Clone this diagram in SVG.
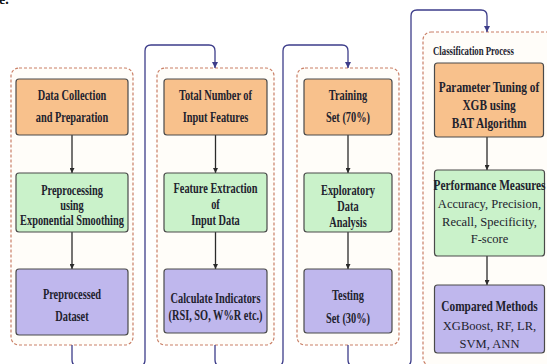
<svg xmlns="http://www.w3.org/2000/svg" width="547" height="364" viewBox="0 0 547 364">
  <defs>
    <marker id="arrowDark" viewBox="0 0 10 10" refX="10" refY="5" markerWidth="5" markerHeight="5" orient="auto" markerUnits="userSpaceOnUse">
      <path d="M0,0 L10,5 L0,10 Z" fill="#2b2b2b"/>
    </marker>
    <marker id="arrowFlow" viewBox="0 0 10 10" refX="10" refY="5" markerWidth="6" markerHeight="6" orient="auto" markerUnits="userSpaceOnUse">
      <path d="M0,0 L10,5 L0,10 Z" fill="#3d3d8a"/>
    </marker>
    <style>
      .stage { fill: #fffdf9; stroke: #c97f66; stroke-width: 1.2; stroke-dasharray: 3 2; }
      .box { stroke: #4a4a4a; stroke-width: 1.2; }
      .orange { fill: #f8c18c; }
      .green { fill: #caf2ca; }
      .purple { fill: #bfb7ed; }
      .step { stroke: #2b2b2b; stroke-width: 1.3; fill: none; marker-end: url(#arrowDark); }
      .flow { stroke: #3d3d8a; stroke-width: 1.3; fill: none; }
      .b { font-family: "Liberation Serif", "Times New Roman", serif; font-weight: bold; font-size: 14px; fill: #22222e; text-anchor: middle; }
      .n { font-family: "Liberation Serif", "Times New Roman", serif; font-weight: normal; font-size: 13.5px; fill: #22222e; text-anchor: middle; }
      .t { font-family: "Liberation Serif", "Times New Roman", serif; font-weight: bold; font-size: 12px; fill: #22222e; }
    </style>
  </defs>

  <rect width="547" height="364" fill="#ffffff"/>

  <text x="-1" y="3.5" font-family="Liberation Serif, serif" font-weight="bold" font-size="14" fill="#111">e.</text>

  <!-- stage containers -->
  <g id="stage1"><rect class="stage" x="11" y="68" width="122" height="277" rx="8"/></g>
  <g id="stage2"><rect class="stage" x="157" y="68" width="117" height="277" rx="8"/></g>
  <g id="stage3"><rect class="stage" x="297" y="68" width="102" height="277" rx="8"/></g>
  <g id="stage4">
    <rect class="stage" x="423" y="32" width="134" height="334" rx="8"/>
    <text class="t" transform="translate(433,54.5) scale(0.73,1)">Classification Process</text>
  </g>

  <!-- connectors -->
  <g id="connectors">
    <path class="flow" marker-end="url(#arrowFlow)" d="M72,345 V360 Q72,366 78,366 H139 Q145,366 145,360 V51 Q145,45 151,45 H209 Q215,45 215,51 V68"/>
    <path class="flow" marker-end="url(#arrowFlow)" d="M215,345 V360 Q215,366 221,366 H277 Q283,366 283,360 V51 Q283,45 289,45 H342 Q348,45 348,51 V68"/>
    <path class="flow" marker-end="url(#arrowFlow)" d="M348,345 V360 Q348,366 354,366 H405 Q411,366 411,360 V16 Q411,10 417,10 H481 Q487,10 487,16 V32"/>
    <line class="step" x1="72" y1="135" x2="72" y2="173"/>
    <line class="step" x1="72" y1="232" x2="72" y2="269"/>
    <line class="step" x1="215.5" y1="135" x2="215.5" y2="173"/>
    <line class="step" x1="215.5" y1="232" x2="215.5" y2="269"/>
    <line class="step" x1="348" y1="135" x2="348" y2="173"/>
    <line class="step" x1="348" y1="232" x2="348" y2="269"/>
    <line class="step" x1="487" y1="137" x2="487" y2="170"/>
    <line class="step" x1="487" y1="256" x2="487" y2="285"/>
  </g>

  <!-- column 1 -->
  <g id="data-collection">
    <rect class="box orange" x="16" y="79" width="112" height="56" rx="3"/>
    <text class="b" transform="translate(72,99.6) scale(0.74,1)">Data Collection</text>
    <text class="b" transform="translate(72,121.6) scale(0.74,1)">and Preparation</text>
  </g>
  <g id="preprocessing">
    <rect class="box green" x="16" y="173" width="112" height="59" rx="3"/>
    <text class="b" transform="translate(72,194.6) scale(0.74,1)">Preprocessing</text>
    <text class="b" transform="translate(72,209.6) scale(0.74,1)">using</text>
    <text class="b" transform="translate(72,224.6) scale(0.74,1)">Exponential Smoothing</text>
  </g>
  <g id="preprocessed-dataset">
    <rect class="box purple" x="16" y="269" width="112" height="66" rx="3"/>
    <text class="b" transform="translate(72,298.6) scale(0.74,1)">Preprocessed</text>
    <text class="b" transform="translate(72,320.6) scale(0.74,1)">Dataset</text>
  </g>

  <!-- column 2 -->
  <g id="input-features">
    <rect class="box orange" x="164" y="79" width="103" height="56" rx="3"/>
    <text class="b" transform="translate(215.5,99.6) scale(0.74,1)">Total Number of</text>
    <text class="b" transform="translate(215.5,121.6) scale(0.74,1)">Input Features</text>
  </g>
  <g id="feature-extraction">
    <rect class="box green" x="164" y="173" width="103" height="59" rx="3"/>
    <text class="b" transform="translate(215.5,192.6) scale(0.74,1)">Feature Extraction</text>
    <text class="b" transform="translate(215.5,208.6) scale(0.74,1)">of</text>
    <text class="b" transform="translate(215.5,224.6) scale(0.74,1)">Input Data</text>
  </g>
  <g id="indicators">
    <rect class="box purple" x="164" y="269" width="103" height="64" rx="3"/>
    <text class="b" transform="translate(215.5,302.6) scale(0.74,1)">Calculate Indicators</text>
    <text class="b" transform="translate(215.5,319.6) scale(0.74,1)">(RSI, SO, W%R etc.)</text>
  </g>

  <!-- column 3 -->
  <g id="training-set">
    <rect class="box orange" x="304" y="79" width="88" height="56" rx="3"/>
    <text class="b" transform="translate(348,99.6) scale(0.74,1)">Training</text>
    <text class="b" transform="translate(348,121.6) scale(0.74,1)">Set (70%)</text>
  </g>
  <g id="eda">
    <rect class="box green" x="304" y="173" width="88" height="59" rx="3"/>
    <text class="b" transform="translate(348,194.6) scale(0.74,1)">Exploratory</text>
    <text class="b" transform="translate(348,210.6) scale(0.74,1)">Data</text>
    <text class="b" transform="translate(348,226.6) scale(0.74,1)">Analysis</text>
  </g>
  <g id="testing-set">
    <rect class="box purple" x="304" y="269" width="88" height="64" rx="3"/>
    <text class="b" transform="translate(348,299.6) scale(0.74,1)">Testing</text>
    <text class="b" transform="translate(348,322.6) scale(0.74,1)">Set (30%)</text>
  </g>

  <!-- column 4 -->
  <g id="parameter-tuning">
    <rect class="box orange" x="434.5" y="63" width="109" height="74" rx="3"/>
    <text class="b" transform="translate(489,91.6) scale(0.81,1)">Parameter Tuning of</text>
    <text class="b" transform="translate(489,109.6) scale(0.81,1)">XGB using</text>
    <text class="b" transform="translate(489,127.6) scale(0.81,1)">BAT Algorithm</text>
  </g>
  <g id="performance-measures">
    <rect class="box green" x="434.5" y="170" width="110" height="86" rx="3"/>
    <text class="b" transform="translate(489.5,189.6) scale(0.81,1)">Performance Measures</text>
    <text class="n" transform="translate(489.5,207.5) scale(0.93,1)">Accuracy, Precision,</text>
    <text class="n" transform="translate(489.5,225.5) scale(0.93,1)">Recall, Specificity,</text>
    <text class="n" transform="translate(489.5,242.5) scale(0.93,1)">F-score</text>
  </g>
  <g id="compared-methods">
    <rect class="box purple" x="434.5" y="285" width="110" height="68" rx="3"/>
    <text class="b" transform="translate(489.5,311.3) scale(0.81,1)">Compared Methods</text>
    <text class="n" transform="translate(489.5,329.5) scale(0.93,1)">XGBoost, RF, LR,</text>
    <text class="n" transform="translate(489.5,347.5) scale(0.93,1)">SVM, ANN</text>
  </g>
</svg>
